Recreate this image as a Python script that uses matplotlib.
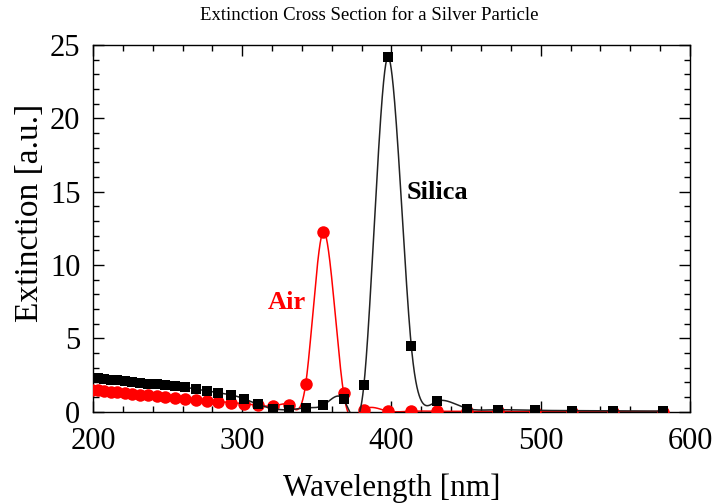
import numpy as np
import matplotlib
matplotlib.use("Agg")
import matplotlib.pyplot as plt
from matplotlib.ticker import MultipleLocator

# Sample wavelengths (nm)
wavelength_nm = [199.3, 203.3, 207.3, 211.9, 216.4, 221.4, 226.2, 231.3, 237.1,
                 242.6, 248.5, 255.1, 261.6, 268.9, 276.1, 283.7, 292.4, 300.9,
                 310.7, 320.4, 331.5, 342.5, 354.2, 367.9, 381.5, 397.4, 413.3,
                 430.5, 450.9, 471.4, 495.9, 520.9, 548.6, 582.1]

# Extinction of the particle in air (a.u.)
extinction_air = [1.50, 1.46, 1.41, 1.36, 1.31, 1.26, 1.21, 1.16, 1.10,
                  1.04, 0.98, 0.92, 0.86, 0.80, 0.74, 0.68, 0.61, 0.52,
                  0.43, 0.37, 0.42, 1.85, 12.25, 1.28, 0.10, 0.03, 0.02,
                  0.02, 0.01, 0.01, 0.0, 0.0, 0.0, 0.0]

# Extinction of the particle embedded in silica (a.u.)
extinction_silica = [2.28, 2.26, 2.22, 2.18, 2.12, 2.06, 2.01, 1.96, 1.91,
                     1.86, 1.80, 1.74, 1.67, 1.52, 1.42, 1.28, 1.14, 0.88,
                     0.48, 0.20, 0.12, 0.25, 0.42, 0.82, 1.78, 24.15, 4.45,
                     0.70, 0.20, 0.12, 0.08, 0.06, 0.04, 0.03]


def tension_spline(x, y, xs, sigma=0.15):
    """Interpolating spline under tension with natural end conditions."""
    x = np.asarray(x, float)
    y = np.asarray(y, float)
    n = len(x)
    h = np.diff(x)
    sh = np.sinh(sigma * h)
    ch = np.cosh(sigma * h)
    a = (1.0 / h - sigma / sh) / sigma ** 2
    b = (sigma * ch / sh - 1.0 / h) / sigma ** 2
    d = np.diff(y) / h
    A = np.zeros((n, n))
    rhs = np.zeros(n)
    A[0, 0] = 1.0
    A[-1, -1] = 1.0
    for i in range(1, n - 1):
        A[i, i - 1] = a[i - 1]
        A[i, i] = b[i - 1] + b[i]
        A[i, i + 1] = a[i]
        rhs[i] = d[i] - d[i - 1]
    z = np.linalg.solve(A, rhs)
    idx = np.clip(np.searchsorted(x, xs) - 1, 0, n - 2)
    x0, x1 = x[idx], x[idx + 1]
    hh = x1 - x0
    s2 = sigma ** 2
    return ((z[idx] * np.sinh(sigma * (x1 - xs))
             + z[idx + 1] * np.sinh(sigma * (xs - x0))) / (s2 * np.sinh(sigma * hh))
            + (y[idx] - z[idx] / s2) * (x1 - xs) / hh
            + (y[idx + 1] - z[idx + 1] / s2) * (xs - x0) / hh)


plt.rcParams['font.family'] = ['Liberation Serif', 'DejaVu Serif']

fig = plt.figure(figsize=(7.15, 5.04), dpi=100)
ax = fig.add_axes([0.130, 0.1835, 0.835, 0.7275])

xs = np.linspace(wavelength_nm[0], wavelength_nm[-1], 3000)
ax.plot(xs, tension_spline(wavelength_nm, extinction_air, xs),
        color='#ff0000', lw=1.1, zorder=2)
ax.plot(wavelength_nm, extinction_air, 'o', color='#ff0000',
        markersize=9, markeredgewidth=0, zorder=3)
ax.plot(xs, tension_spline(wavelength_nm, extinction_silica, xs),
        color='#222222', lw=1.1, zorder=4)
ax.plot(wavelength_nm, extinction_silica, 's', color='black',
        markersize=7.8, markeredgewidth=0, zorder=5)

ax.set_xlim(200, 600)
ax.set_ylim(0, 25)
ax.xaxis.set_major_locator(MultipleLocator(100))
ax.xaxis.set_minor_locator(MultipleLocator(20))
ax.yaxis.set_major_locator(MultipleLocator(5))
ax.yaxis.set_minor_locator(MultipleLocator(1))
ax.tick_params(which='both', direction='in', top=True, right=True,
               labelsize=22, width=1)
ax.tick_params(which='major', length=8)
ax.tick_params(which='minor', length=4)
ax.tick_params(axis='x', which='major', pad=11)
ax.tick_params(axis='y', which='major', pad=9)
for s in ax.spines.values():
    s.set_linewidth(1.0)

ax.set_xlabel('Wavelength [nm]', fontsize=22.5, labelpad=13)
ax.set_ylabel('Extinction [a.u.]', fontsize=24)
ax.yaxis.set_label_coords(-0.080, 0.542)
fig.text(0.517, 0.970, 'Extinction Cross Section for a Silver Particle',
         fontsize=13.5, ha='center', va='center')

ax.text(330, 7.4, 'Air', color='#ff0000', fontsize=19, fontweight='bold',
        ha='center', va='center')
ax.text(430.5, 14.9, 'Silica', color='black', fontsize=19, fontweight='bold',
        ha='center', va='center')

fig.savefig('out.png', dpi=100)
